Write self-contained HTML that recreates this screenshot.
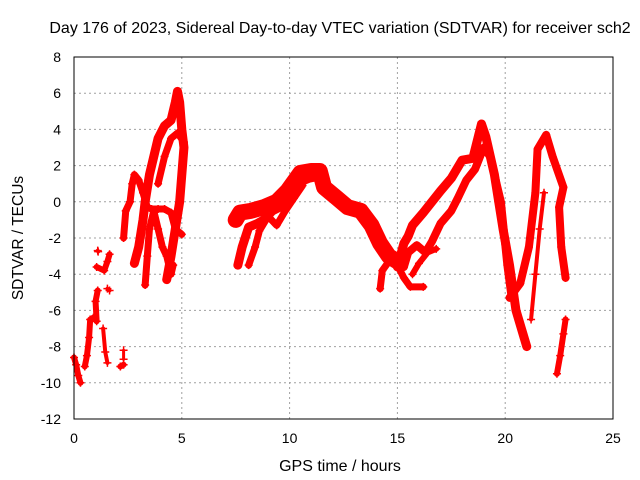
<!DOCTYPE html>
<html><head><meta charset="utf-8"><style>
body{margin:0;background:#fff}
svg{display:block;font-family:"Liberation Sans",sans-serif;font-size:14px}
</style></head><body>
<svg id="chart" width="640" height="480">
<text x="340" y="33" text-anchor="middle" font-size="16">Day 176 of 2023, Sidereal Day-to-day VTEC variation (SDTVAR) for receiver sch2</text>
<text x="340" y="471" text-anchor="middle" font-size="16">GPS time / hours</text>
<text transform="translate(23,238) rotate(-90)" text-anchor="middle" font-size="15.5">SDTVAR / TECUs</text>
<g id="grid"></g><g id="ticks"></g><g id="marks"></g>
<rect x="74" y="57" width="539" height="362" fill="none" stroke="#000" stroke-width="1"/>
</svg>
<script>
const xTicks=[0,5,10,15,20,25];
const yTicks=[-12,-10,-8,-6,-4,-2,0,2,4,6,8];
const trackA=[[0,-8.6],[0.1,-9],[0.2,-9.6],[0.3,-10]];
const trackB=[[0.5,-9.1],[0.6,-8.5],[0.7,-7.5],[0.75,-6.5],[0.9,-6.4],[1.05,-6.6],[1.0,-5.5],[1.1,-4.9]];
const trackC=[[1.35,-7],[1.45,-8.3],[1.55,-8.9]];
const trackC2=[[1.05,-3.6],[1.4,-3.8],[1.55,-3.3],[1.65,-2.9]];
const trackC3=[[1.1,-2.7],[1.12,-2.75]];
const trackC4=[[1.55,-4.8],[1.65,-4.9]];
const trackC5=[[2.15,-9.1],[2.3,-9.0]];
const trackC6=[[2.3,-8.2],[2.3,-8.7]];
const trackD=[[2.3,-2],[2.4,-0.5],[2.6,0],[2.7,1],[2.8,1.5],[3.0,1.2],[3.2,0.5],[3.4,-0.3],[3.6,-0.4],[3.9,-0.4],[4.2,-0.4],[4.5,-0.6],[4.7,-1.5],[5.0,-1.8]];
const trackE=[[2.8,-3.4],[3.0,-2.5],[3.2,-1],[3.3,0],[3.5,1.5],[3.7,2.5],[3.9,3.5],[4.2,4.2],[4.5,4.5],[4.7,5.5],[4.8,6.1],[4.9,5.5],[5.0,4],[5.1,3],[5.0,1.5],[4.9,0],[4.7,-1.5],[4.5,-3],[4.3,-4.3]];
const trackF=[[3.3,-4.6],[3.4,-3],[3.5,-1.5],[3.7,-0.5],[3.9,-1.5],[4.1,-2.5],[4.3,-3],[4.5,-4],[4.6,-3.5]];
const trackG=[[3.9,1],[4.2,2.5],[4.5,3.5],[4.8,3.8],[5.1,3.3]];
const trackH=[[7.5,-1],[7.7,-0.6],[8.2,-0.5],[8.8,-0.3],[9.4,0],[9.9,0.6],[10.5,1.6],[11.0,1.7],[11.4,1.7],[11.6,0.8],[12.2,0.2],[12.7,-0.3],[13.3,-0.5],[13.8,-1.3],[14.2,-2.3],[14.6,-3.0],[15.0,-3.3]];
const trackI=[[7.6,-3.5],[7.8,-2.5],[8.1,-1.4],[8.5,-1.2],[8.8,-1.0],[9.2,-0.5],[9.7,-0.2],[10.1,0.4],[10.5,1.1],[10.9,1.3],[11.3,1.4]];
const trackJ=[[8.1,-3.5],[8.4,-2.5],[8.6,-1.6],[9.0,-0.8],[9.4,-1.3],[9.8,-0.5],[10.2,0.2],[10.6,0.9]];
const trackK=[[14.2,-4.8],[14.3,-3.8],[14.6,-3.3],[15.0,-3.5],[15.3,-4.2],[15.6,-4.7],[16.2,-4.7]];
const trackL=[[15.0,-3.6],[15.3,-2.3],[15.5,-1.9],[15.7,-1.3],[16.2,-0.6],[17.0,0.6],[17.5,1.3],[18.0,2.3],[18.5,2.4],[18.9,4.3],[19.1,3.6],[19.5,1.5],[19.9,-1.5],[20.2,-3.5],[20.5,-6.0],[21.0,-8.0]];
const trackM=[[15.3,-3.6],[15.5,-2.8],[15.9,-2.4],[16.3,-2.8],[16.6,-2.2],[17.0,-1.2],[17.5,-0.5],[17.8,0.2],[18.2,1.2],[18.6,1.8],[19.0,3.0],[19.3,2.5],[19.8,0],[20.1,-3.5],[20.3,-5.3]];
const trackN=[[15.7,-4.0],[16.0,-3.4],[16.4,-2.8],[16.8,-2.6]];
const trackO=[[20.2,-5.3],[20.7,-4.5],[21.1,-2.5],[21.4,0.5],[21.5,2.9],[21.9,3.7],[22.2,2.5],[22.7,0.8],[22.5,-0.3],[22.6,-2.5],[22.8,-4.2]];
const trackP=[[21.2,-6.5],[21.4,-4],[21.6,-1.5],[21.8,0.5]];
const trackQ=[[22.4,-9.5],[22.55,-8.5],[22.7,-7.3],[22.8,-6.5]];
const tracks=[trackA,trackB,trackC,trackC2,trackC3,trackC4,trackC5,trackC6,trackD,trackE,trackF,trackG,trackH,trackI,trackJ,trackK,trackL,trackM,trackN,trackO,trackP,trackQ];
const widths=[6,6,4,6,4,4,6,3,7,9,7,7,16,9,7,7,9,8,6,8,4,6];
const X=t=>74+t*539/25, Y=v=>57+(8-v)*362/20;
const NS='http://www.w3.org/2000/svg';
const g=document.getElementById('grid'),tk=document.getElementById('ticks'),mk=document.getElementById('marks');
function mkEl(tag,attrs,parent){const e=document.createElementNS(NS,tag);for(const k in attrs)e.setAttribute(k,attrs[k]);parent.appendChild(e);return e;}
xTicks.forEach(t=>{
  if(t>0&&t<25){const l=mkEl('line',{x1:X(t),x2:X(t),y1:57,y2:419,stroke:'#a0a0a0','stroke-dasharray':'2,3'},g);
  
  }
  const tx=mkEl('text',{x:X(t),y:443,'text-anchor':'middle'},tk);tx.textContent=t;
  
  
});
yTicks.forEach(v=>{
  if(v>-12&&v<8){const l=mkEl('line',{x1:74,x2:613,y1:Y(v),y2:Y(v),stroke:'#a0a0a0','stroke-dasharray':'2,3'},g);
  
  }
  const tx=mkEl('text',{x:61,y:Y(v)+5,'text-anchor':'end'},tk);tx.textContent=v;
  
  
});
tracks.forEach((tr,i)=>{
  const p=mkEl('polyline',{points:tr.map(d=>X(d[0])+','+Y(d[1])).join(' '),fill:'none',stroke:'#ff0000','stroke-width':widths[i],'stroke-linejoin':'round','stroke-linecap':'round'},mk);
  
  
  tr.forEach(d=>{
    const x=X(d[0]),y=Y(d[1]);
    const m=mkEl('path',{d:`M${x-4},${y}H${x+4}M${x},${y-4}V${y+4}`,stroke:'#ff0000','stroke-width':1.5},mk);
    
    
  });
});
</script>
</body></html>
